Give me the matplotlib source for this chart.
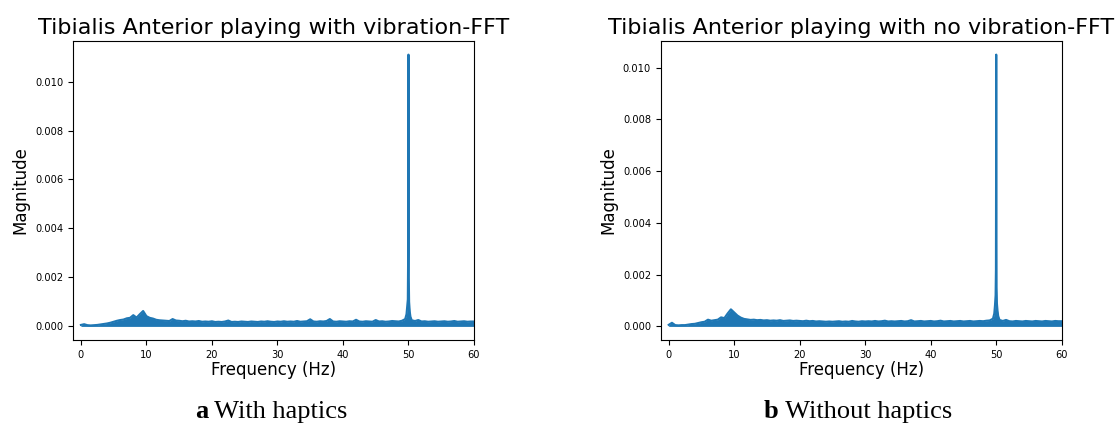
import numpy as np
import matplotlib
matplotlib.use("Agg")
import matplotlib.pyplot as plt

# ---------------- data (magnitudes in units of 1e-4) ----------------
UNIT = 1e-4
base_freq = np.arange(0, 60.01, 0.5)  # frequency grid (Hz), 0.5 Hz steps

mag_a = [
    0.6, 0.9, 0.5, 0.4, 0.5, 0.6, 0.8, 1.0, 1.2, 1.5,      # 0 - 4.5
    1.9, 2.3, 2.6, 2.8, 3.3, 3.5, 4.6, 3.6, 5.0, 6.3,      # 5 - 9.5
    4.2, 3.5, 3.2, 2.7, 2.5, 2.4, 2.3, 2.2, 3.0, 2.4,      # 10 - 14.5
    2.3, 2.1, 2.3, 2.0, 2.1, 2.0, 2.2, 1.9, 2.0, 1.9,      # 15 - 19.5
    2.1, 1.8, 1.9, 1.8, 2.0, 2.4, 1.8, 1.9, 1.8, 2.0,      # 20 - 24.5
    1.9, 1.8, 2.0, 1.9, 1.8, 2.0, 1.9, 2.1, 1.9, 1.8,      # 25 - 29.5
    2.0, 1.9, 2.1, 1.9, 2.0, 1.9, 2.2, 1.9, 2.0, 2.1,      # 30 - 34.5
    2.9, 2.0, 1.9, 2.1, 2.0, 2.2, 3.0, 2.0, 1.9, 2.1,      # 35 - 39.5
    2.0, 1.9, 2.1, 2.0, 2.7, 2.0, 1.9, 2.1, 2.0, 1.9,      # 40 - 44.5
    2.6, 2.0, 2.1, 1.9, 2.0, 2.2, 2.1, 2.0, 2.3, 2.5,      # 45 - 49.5
    2.5, 2.3, 2.2, 2.6, 2.0, 2.1, 1.9, 2.0, 2.1, 1.9,      # 50 - 54.5
    2.0, 2.1, 1.9, 2.0, 2.2, 1.9, 2.0, 2.1, 1.9, 2.0,      # 55 - 59.5
    2.0,                                                   # 60
]

mag_b = [
    0.6, 1.4, 0.5, 0.4, 0.5, 0.5, 0.7, 0.9, 1.0, 1.3,      # 0 - 4.5
    1.6, 1.8, 2.6, 2.2, 2.4, 2.6, 3.5, 3.2, 5.0, 6.6,      # 5 - 9.5
    5.4, 4.2, 3.4, 2.9, 2.7, 2.5, 2.6, 2.4, 2.5, 2.3,      # 10 - 14.5
    2.4, 2.2, 2.3, 2.2, 2.4, 2.1, 2.2, 2.3, 2.1, 2.2,      # 15 - 19.5
    2.1, 2.0, 2.2, 2.0, 2.1, 1.9, 2.0, 1.9, 1.8, 1.9,      # 20 - 24.5
    1.8, 1.9, 2.0, 1.8, 1.9, 1.8, 2.1, 1.9, 1.8, 2.0,      # 25 - 29.5
    1.9, 2.0, 1.9, 2.1, 1.9, 2.0, 2.2, 1.9, 2.0, 1.9,      # 30 - 34.5
    2.0, 2.1, 1.9, 2.0, 2.4, 1.9, 2.0, 2.1, 1.9, 2.0,      # 35 - 39.5
    2.1, 1.9, 2.0, 2.2, 1.9, 2.0, 2.1, 1.9, 2.0, 2.1,      # 40 - 44.5
    1.9, 2.0, 2.1, 1.9, 2.0, 2.1, 2.0, 2.2, 2.3, 2.5,      # 45 - 49.5
    2.5, 2.3, 2.1, 2.5, 2.0, 1.9, 2.1, 2.0, 1.9, 2.1,      # 50 - 54.5
    2.0, 1.9, 2.1, 2.0, 1.9, 2.1, 2.0, 1.9, 2.1, 2.0,      # 55 - 59.5
    2.0,                                                   # 60
]

# fine detail around the 50 Hz mains peak
spike_freq = [49.5, 49.7, 49.8, 49.9, 49.95, 50.0, 50.05, 50.1, 50.2, 50.3, 50.5]
spike_a = [3.0, 5.0, 8.0, 11.0, 30.0, 111.0, 20.0, 10.0, 6.0, 4.0, 2.5]
spike_b = [3.0, 5.0, 8.0, 12.0, 22.0, 105.0, 15.0, 9.0, 6.0, 4.0, 2.5]

titles = ["Tibialis Anterior playing with vibration-FFT",
          "Tibialis Anterior playing with no vibration-FFT"]
captions = [("a", " With haptics"), ("b", " Without haptics")]
yticks = [0.000, 0.002, 0.004, 0.006, 0.008, 0.010]
xticks = [0, 10, 20, 30, 40, 50, 60]


def merge(base_f, base_m, sp_f, sp_m):
    keep = [(fi, mi) for fi, mi in zip(base_f, base_m)
            if not (sp_f[0] <= fi <= sp_f[-1])]
    allp = sorted(keep + list(zip(sp_f, sp_m)))
    return np.array([p[0] for p in allp]), np.array([p[1] for p in allp]) * UNIT


fig = plt.figure(figsize=(11.2, 4.25), dpi=100)
ax_pos = [[0.0652, 0.200, 0.358, 0.7035], [0.590, 0.200, 0.358, 0.7035]]
series = [(mag_a, spike_a), (mag_b, spike_b)]
color = "#1f77b4"

for i in range(2):
    ax = fig.add_axes(ax_pos[i])
    f, m = merge(base_freq, series[i][0], spike_freq, series[i][1])
    ax.fill_between(f, 0, m, color=color, lw=0)
    ax.plot(f, m, color=color, lw=1.5)
    ax.set_xlim(-1.2, 60)
    ymax = max(m)
    ax.set_ylim(-0.05 * ymax, ymax * 1.05)
    ax.set_xticks(xticks)
    ax.set_yticks(yticks)
    ax.set_yticklabels([f"{v:.3f}" for v in yticks])
    ax.tick_params(labelsize=7.1)
    ax.set_title(titles[i], fontsize=16, pad=5)
    ax.set_xlabel("Frequency (Hz)", fontsize=12, labelpad=1)
    ax.set_ylabel("Magnitude", fontsize=12, labelpad=4)

# captions (bold letter + regular text, serif)
fig.canvas.draw()
renderer = fig.canvas.get_renderer()
centers = [271.5 / 1120, 858 / 1120]
cap_y = 0.017
for i, (lbl, txt) in enumerate(captions):
    t1 = fig.text(0, cap_y, lbl, fontsize=19, fontweight="bold",
                  family="Liberation Serif", va="baseline")
    t2 = fig.text(0, cap_y, txt, fontsize=19,
                  family="Liberation Serif", va="baseline")
    w1 = t1.get_window_extent(renderer).width / fig.bbox.width
    w2 = t2.get_window_extent(renderer).width / fig.bbox.width
    x0 = centers[i] - (w1 + w2) / 2
    t1.set_x(x0)
    t2.set_x(x0 + w1)

fig.savefig("out.png", dpi=100)
